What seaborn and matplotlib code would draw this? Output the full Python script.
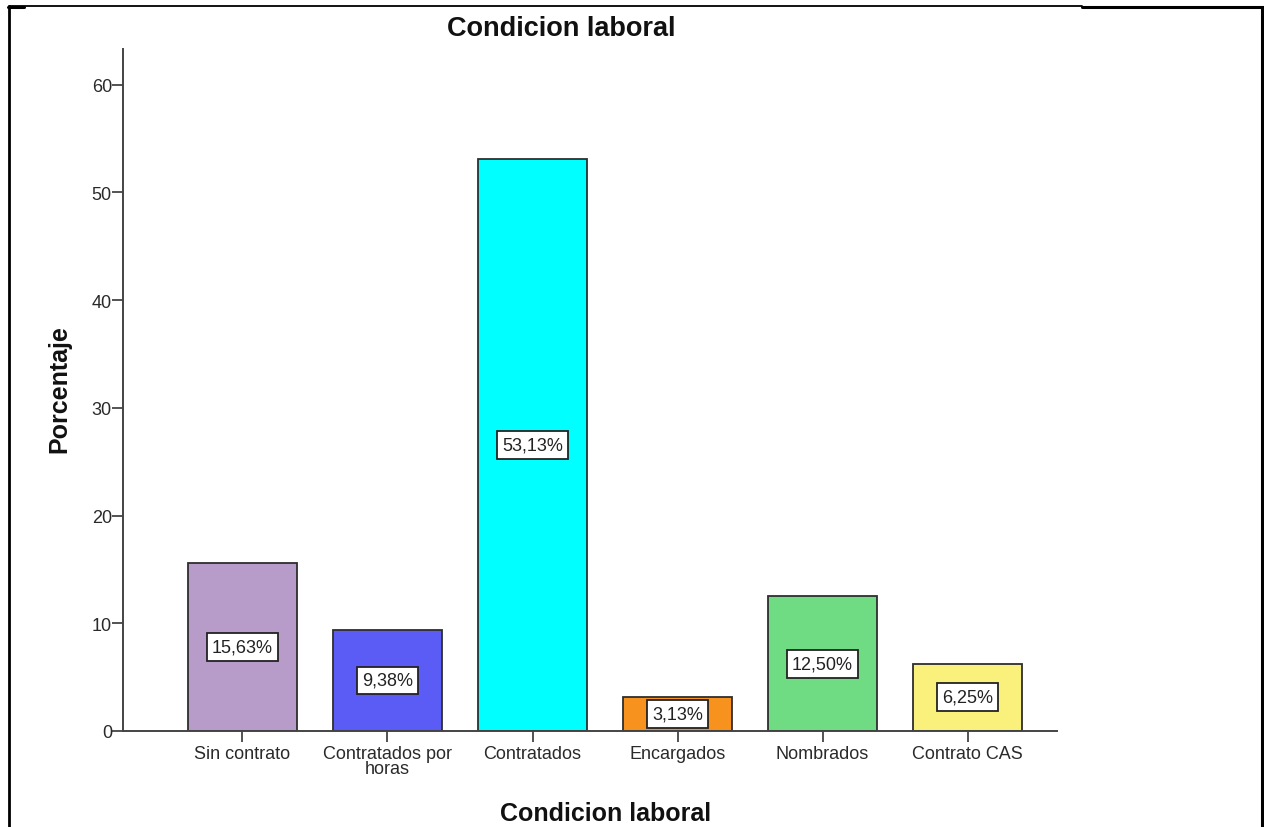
import matplotlib
matplotlib.use("Agg")
import matplotlib.pyplot as plt
from matplotlib.lines import Line2D
import seaborn as sns
import pandas as pd

categories = ["Sin contrato", "Contratados por\nhoras", "Contratados",
              "Encargados", "Nombrados", "Contrato CAS"]
percentages = [15.63, 9.38, 53.13, 3.13, 12.50, 6.25]
bar_colors = ["#b79bc8", "#5b5bf5", "#00ffff", "#f7921e", "#6fdc84", "#f9f17b"]
y_ticks = [0, 10, 20, 30, 40, 50, 60]

sns.set_theme(style="white")
plt.rcParams["font.family"] = ["Liberation Sans", "DejaVu Sans"]

W, H = 1264, 828
fig = plt.figure(figsize=(W / 100, H / 100), dpi=100)
ax = fig.add_axes([123 / W, 1 - 732 / H, (1057 - 123) / W, (732 - 50) / H])

df = pd.DataFrame({"cat": categories, "pct": percentages})
sns.barplot(data=df, x="cat", y="pct", hue="cat", palette=bar_colors,
            legend=False, width=0.75, edgecolor="#2e2e2e", linewidth=1.3,
            saturation=1, ax=ax)

ax.set_xlim(-0.824, 5.617)
ax.set_ylim(0, 63.3)
ax.set_yticks(y_ticks)
ax.set_yticklabels([str(t) for t in y_ticks])

for side in ("top", "right"):
    ax.spines[side].set_visible(False)
for side in ("left", "bottom"):
    ax.spines[side].set_color("#444444")
    ax.spines[side].set_linewidth(1.4)

ax.tick_params(axis="y", which="both", direction="out", length=8, width=1.3,
               color="#444444", left=True, labelsize=13, labelcolor="#2a2a2a", pad=0)
ax.tick_params(axis="x", which="both", direction="out", length=8, width=1.3,
               color="#444444", bottom=True, labelsize=13, labelcolor="#2a2a2a", pad=2)
for lbl in ax.get_xticklabels():
    lbl.set_linespacing(0.82)

for i, v in enumerate(percentages):
    y = max(v / 2, 1.55)
    ax.text(i, y, f"{v:.2f}%".replace(".", ","), ha="center", va="center",
            fontsize=13, color="#222222",
            bbox=dict(boxstyle="square,pad=0.3", facecolor="white",
                      edgecolor="#222222", linewidth=1.3))

ax.set_xlabel("")
ax.set_ylabel("")
fig.text(561 / W, 1 - 29 / H, "Condicion laboral", ha="center", va="center",
         fontsize=19.5, fontweight="bold", color="#111111")
fig.text(606 / W, 1 - 814 / H, "Condicion laboral", ha="center", va="center",
         fontsize=18, fontweight="bold", color="#111111")
fig.text(59 / W, 1 - 389 / H, "Porcentaje", ha="center", va="center",
         rotation=90, fontsize=18, fontweight="bold", color="#111111")

# surrounding frame lines
def px_line(x0, y0, x1, y1, lw):
    fig.add_artist(Line2D([x0 / W, x1 / W], [1 - y0 / H, 1 - y1 / H],
                          color="black", linewidth=lw, transform=fig.transFigure))

px_line(9, 7, 1082, 7, 1.3)
px_line(1082, 8, 1263, 8, 2.2)
px_line(9, 7, 9, 828, 2.0)
px_line(8, 8, 24, 8, 2.2)
px_line(1262, 8, 1262, 828, 2.2)

fig.savefig("out.png", dpi=100, facecolor="white")
